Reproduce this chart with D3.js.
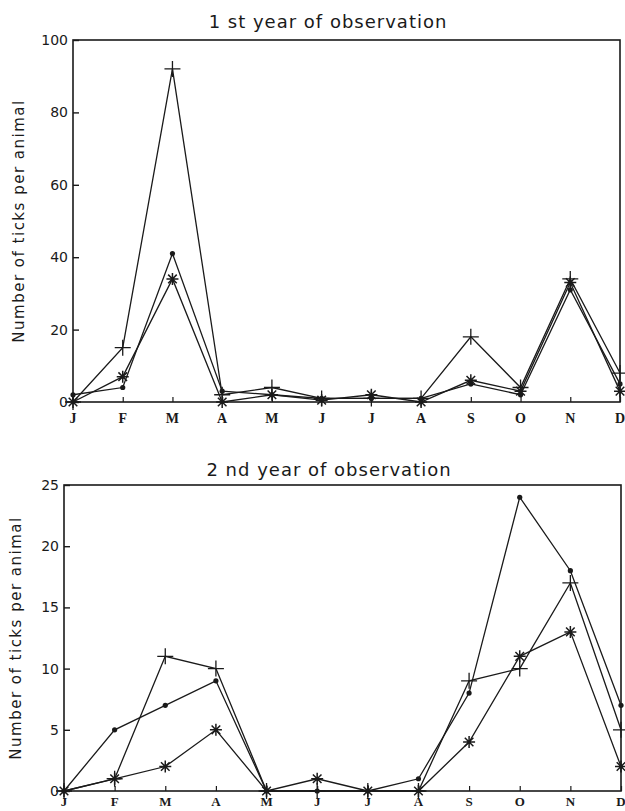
<!DOCTYPE html>
<html>
<head>
<meta charset="utf-8">
<script src="https://cdn.jsdelivr.net/npm/d3@7"></script>
<style>
  body { margin: 0; background: #fff; }
  svg { display: block; }
</style>
</head>
<body>
<div id="chart"></div>
<script>
// month tick labels
var months = ['J', 'F', 'M', 'A', 'M', 'J', 'J', 'A', 'S', 'O', 'N', 'D'];

// 1st year of observation
var year1Plus = [0, 15, 92, 2, 4, 1, 1, 1, 18, 4, 34, 8];
var year1Dot  = [2, 4, 41, 3, 2, 1, 1, 1, 5, 2, 31, 5];
var year1Star = [0, 7, 34, 0, 2, 0.5, 2, 0, 6, 3, 33, 3];
var year1Ticks = [0, 20, 40, 60, 80, 100];

// 2nd year of observation
var year2Plus = [0, 1, 11, 10, 0, 0, 0, 0, 9, 10, 17, 5];
var year2Dot  = [0, 5, 7, 9, 0, 0, 0, 1, 8, 24, 18, 7];
var year2Star = [0, 1, 2, 5, 0, 1, 0, 0, 4, 11, 13, 2];
var year2Ticks = [0, 5, 10, 15, 20, 25];

var W = 625, H = 811;
var ink = '#1a1a1a';
var font = 'DejaVu Sans, sans-serif';

var svg = d3.select('#chart').append('svg')
  .attr('width', W)
  .attr('height', H);

function drawPanel(opts) {
  var x = d3.scalePoint()
    .domain(d3.range(months.length))
    .range([opts.left, opts.right]);
  var y = d3.scaleLinear()
    .domain([0, opts.max])
    .range([opts.bottom, opts.top]);

  var g = svg.append('g');

  // frame
  g.append('rect')
    .attr('x', opts.left).attr('y', opts.top)
    .attr('width', opts.right - opts.left)
    .attr('height', opts.bottom - opts.top)
    .attr('fill', 'none')
    .attr('stroke', ink)
    .attr('stroke-width', 1.6);

  // y axis: ticks pointing inward
  var yAxis = d3.axisRight(y)
    .tickValues(opts.ticks)
    .tickSize(6)
    .tickFormat('');
  g.append('g')
    .attr('transform', 'translate(' + opts.left + ',0)')
    .call(yAxis)
    .call(function(s) {
      s.select('.domain').remove();
      s.selectAll('line').attr('stroke', ink).attr('stroke-width', 1.4);
    });
  g.selectAll('.ylab')
    .data(opts.ticks)
    .enter().append('text')
    .attr('x', opts.left - 5)
    .attr('y', function(d) { return y(d) + 5; })
    .attr('text-anchor', 'end')
    .attr('font-family', font)
    .attr('font-size', 14)
    .attr('fill', ink)
    .text(function(d) { return d; });

  // x axis: short ticks pointing inward
  var xAxis = d3.axisTop(x)
    .tickSize(5)
    .tickFormat('');
  g.append('g')
    .attr('transform', 'translate(0,' + opts.bottom + ')')
    .call(xAxis)
    .call(function(s) {
      s.select('.domain').remove();
      s.selectAll('line').attr('stroke', ink).attr('stroke-width', 1.2);
    });
  g.selectAll('.xlab')
    .data(months)
    .enter().append('text')
    .attr('x', function(d, i) { return x(i); })
    .attr('y', opts.bottom + opts.xlabDy)
    .attr('text-anchor', 'middle')
    .attr('font-family', 'Liberation Serif, serif')
    .attr('font-weight', 'bold')
    .attr('font-size', opts.xlabSize)
    .attr('fill', ink)
    .text(function(d) { return d; });

  // title
  g.append('text')
    .attr('x', opts.titleX)
    .attr('y', opts.titleY)
    .attr('text-anchor', 'middle')
    .attr('font-family', font)
    .attr('font-size', 18)
    .attr('letter-spacing', 1)
    .attr('fill', ink)
    .text(opts.title);

  // y axis label
  var midY = (opts.top + opts.bottom) / 2;
  g.append('text')
    .attr('transform', 'translate(' + opts.labelX + ',' + midY + ') rotate(-90)')
    .attr('text-anchor', 'middle')
    .attr('font-family', font)
    .attr('font-size', 15)
    .attr('letter-spacing', 1.5)
    .attr('fill', ink)
    .text('Number of ticks per animal');

  var line = d3.line()
    .x(function(d, i) { return x(i); })
    .y(function(d) { return y(d); });

  opts.series.forEach(function(s) {
    g.append('path')
      .datum(s.values)
      .attr('d', line)
      .attr('fill', 'none')
      .attr('stroke', ink)
      .attr('stroke-width', 1.3);

    var m = g.selectAll(null)
      .data(s.values)
      .enter().append('g')
      .attr('transform', function(d, i) { return 'translate(' + x(i) + ',' + y(d) + ')'; });

    if (s.marker === 'dot') {
      m.append('circle').attr('r', 2.6).attr('fill', ink);
    } else if (s.marker === 'plus') {
      m.append('path')
        .attr('d', 'M-8,0H8M0,-8V8')
        .attr('stroke', ink).attr('stroke-width', 1.3);
    } else {
      m.append('path')
        .attr('d', 'M-6,0H6M0,-6V6M-4.3,-4.3L4.3,4.3M-4.3,4.3L4.3,-4.3')
        .attr('stroke', ink).attr('stroke-width', 1.5);
    }
  });
}

drawPanel({
  left: 73, right: 620, top: 40, bottom: 402,
  max: 100, ticks: year1Ticks,
  title: '1 st year of observation', titleX: 328, titleY: 28,
  labelX: 24, xlabDy: 21, xlabSize: 14,
  series: [
    { values: year1Plus, marker: 'plus' },
    { values: year1Dot, marker: 'dot' },
    { values: year1Star, marker: 'star' }
  ]
});

drawPanel({
  left: 64, right: 621, top: 485, bottom: 791,
  max: 25, ticks: year2Ticks,
  title: '2 nd year of observation', titleX: 329, titleY: 476,
  labelX: 21, xlabDy: 15, xlabSize: 13,
  series: [
    { values: year2Plus, marker: 'plus' },
    { values: year2Dot, marker: 'dot' },
    { values: year2Star, marker: 'star' }
  ]
});
</script>
</body>
</html>
